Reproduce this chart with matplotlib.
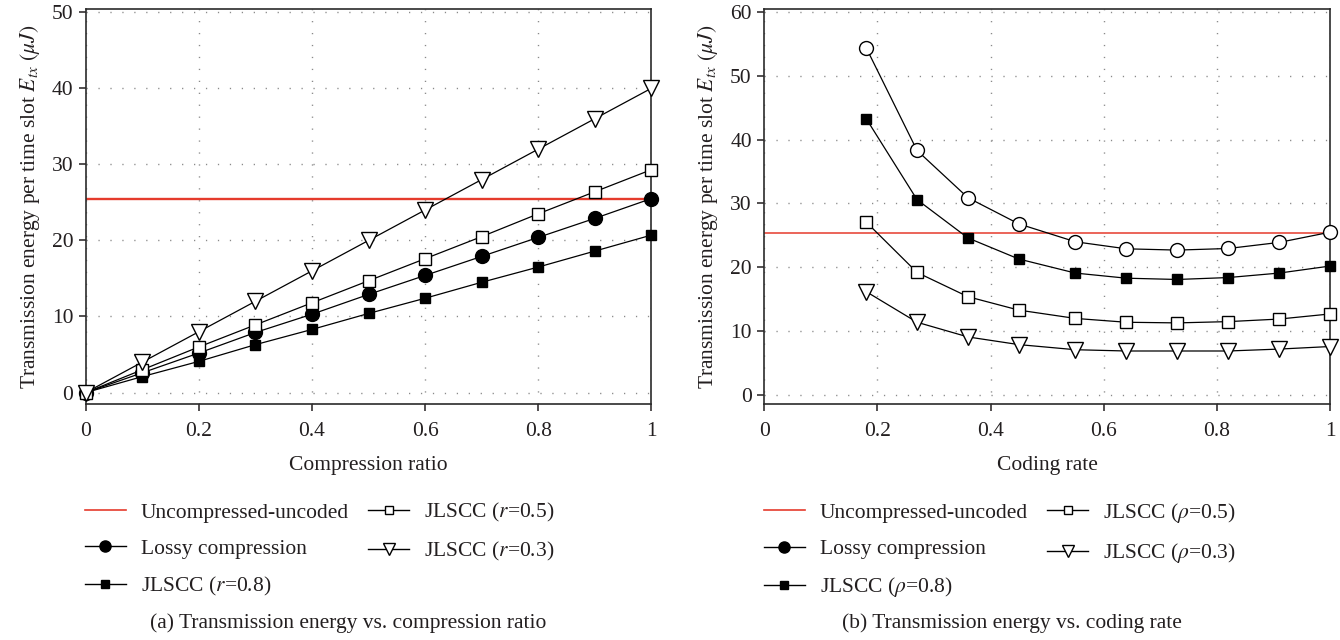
import matplotlib
matplotlib.use("Agg")
import matplotlib.pyplot as plt
from matplotlib.lines import Line2D

# ---------------- data ----------------
comp_ratio = [0, 0.1, 0.2, 0.3, 0.4, 0.5, 0.6, 0.7, 0.8, 0.9, 1.0]
a_uncompressed = 25.4
a_lossy = [0, 2.6, 5.2, 7.9, 10.3, 12.9, 15.4, 17.9, 20.4, 22.9, 25.5]
a_r08 = [0, 2.1, 4.1, 6.3, 8.3, 10.4, 12.4, 14.5, 16.5, 18.6, 20.7]
a_r05 = [0, 3.0, 6.0, 8.9, 11.8, 14.7, 17.6, 20.5, 23.5, 26.4, 29.3]
a_r03 = [0, 4.0, 8.0, 12.0, 16.0, 20.0, 24.0, 28.0, 32.0, 36.0, 40.0]

coding_rate = [0.18, 0.27, 0.36, 0.45, 0.55, 0.64, 0.73, 0.82, 0.91, 1.0]
b_uncompressed = 25.4
b_lossy = [54.4, 38.3, 30.9, 26.8, 24.0, 22.9, 22.7, 22.95, 23.9, 25.5]
b_rho08 = [43.3, 30.6, 24.6, 21.3, 19.1, 18.3, 18.1, 18.4, 19.1, 20.2]
b_rho05 = [27.1, 19.2, 15.4, 13.3, 12.0, 11.4, 11.3, 11.5, 11.9, 12.7]
b_rho03 = [16.2, 11.4, 9.1, 7.9, 7.1, 6.9, 6.9, 6.9, 7.2, 7.6]

a_xticks = [0, 0.2, 0.4, 0.6, 0.8, 1]
a_xticklabels = ["0", "0.2", "0.4", "0.6", "0.8", "1"]
a_yticks = [0, 10, 20, 30, 40, 50]
b_yticks = [0, 10, 20, 30, 40, 50, 60]

a_labels = ["Uncompressed-uncoded", "Lossy compression", "JLSCC ($r$=0.8)",
            "JLSCC ($r$=0.5)", "JLSCC ($r$=0.3)"]
b_labels = ["Uncompressed-uncoded", "Lossy compression", r"JLSCC ($\rho$=0.8)",
            r"JLSCC ($\rho$=0.5)", r"JLSCC ($\rho$=0.3)"]

# ---------------- style ----------------
FS = 15.5
plt.rcParams['font.family'] = ['Liberation Serif', 'DejaVu Serif']
plt.rcParams['mathtext.fontset'] = 'stix'
plt.rcParams['font.size'] = FS
TXT = '#231f20'
RED = '#e53b2c'
GRID = '#8a8a8a'

W, H = 1340, 640
fig = plt.figure(figsize=(W / 100, H / 100), dpi=100)

def ax_rect(x0, y0, x1, y1):
    return [x0 / W, 1 - y1 / H, (x1 - x0) / W, (y1 - y0) / H]

axA = fig.add_axes(ax_rect(85.7, 8.7, 651.5, 404))
axB = fig.add_axes(ax_rect(764.3, 8.7, 1330, 404))

line_kw = dict(color='black', lw=0.9, clip_on=False)

def style(ax, yticks, ylim):
    ax.set_xlim(0, 1)
    ax.set_ylim(*ylim)
    ax.set_xticks(a_xticks)
    ax.set_xticklabels(a_xticklabels)
    ax.set_yticks(yticks)
    ax.grid(True, color=GRID, lw=1.0, linestyle=(0, (0.9, 7.7)))
    ax.set_axisbelow(True)
    ax.tick_params(direction='out', length=5, width=1.1, colors=TXT,
                   labelsize=FS)
    ax.tick_params(axis='x', pad=8)
    ax.tick_params(axis='y', pad=4)
    for s in ax.spines.values():
        s.set_color('#2b2b2b')
        s.set_linewidth(1.2)
    ax.set_ylabel(r"Transmission energy per time slot $E_{tx}$ $(\mu J)$",
                  color=TXT, fontsize=FS, labelpad=7)

# ---- (a) ----
axA.axhline(a_uncompressed, color=RED, lw=1.7, zorder=2)
axA.plot(comp_ratio, a_lossy, marker='o', ms=10, mfc='black', mec='black', **line_kw, zorder=3)
axA.plot(comp_ratio, a_r08, marker='s', ms=7.5, mfc='black', mec='black', **line_kw, zorder=3)
axA.plot(comp_ratio, a_r05, marker='s', ms=8, mfc='white', mec='black', mew=1.0, **line_kw, zorder=4)
axA.plot(comp_ratio, a_r03, marker='v', ms=11, mfc='white', mec='black', mew=1.0, **line_kw, zorder=5)
style(axA, a_yticks, (-1.5, 50.45))
axA.set_xlabel("Compression ratio", color=TXT, fontsize=FS, labelpad=11)

# ---- (b) ----
axB.axhline(b_uncompressed, color=RED, lw=1.1, zorder=2)
axB.plot(coding_rate, b_lossy, marker='o', ms=10, mfc='white', mec='black', mew=1.0, **line_kw, zorder=3)
axB.plot(coding_rate, b_rho08, marker='s', ms=7.5, mfc='black', mec='black', **line_kw, zorder=3)
axB.plot(coding_rate, b_rho05, marker='s', ms=8, mfc='white', mec='black', mew=1.0, **line_kw, zorder=3)
axB.plot(coding_rate, b_rho03, marker='v', ms=11, mfc='white', mec='black', mew=1.0, **line_kw, zorder=3)
style(axB, b_yticks, (-1.4, 60.5))
axB.set_xlabel("Coding rate", color=TXT, fontsize=FS, labelpad=11)

# ---- legends ----
def handles(labels):
    return [
        Line2D([], [], color=RED, lw=1.2, label=labels[0]),
        Line2D([], [], color='black', lw=1.0, marker='o', ms=8, mfc='black', mec='black', label=labels[1]),
        Line2D([], [], color='black', lw=1.0, marker='s', ms=6, mfc='black', mec='black', label=labels[2]),
        Line2D([], [], color='black', lw=1.0, marker='s', ms=6, mfc='white', mec='black', label=labels[3]),
        Line2D([], [], color='black', lw=1.0, marker='v', ms=8.5, mfc='white', mec='black', label=labels[4]),
    ]

leg_kw = dict(ncol=2, frameon=False, handlelength=1.9, handletextpad=0.7,
              columnspacing=0.9, labelspacing=0.75, borderpad=0, borderaxespad=0,
              fontsize=FS, loc='upper left', labelcolor=TXT)
fig.legend(handles=handles(a_labels), bbox_to_anchor=(85 / W, 1 - 501 / H), **leg_kw)
fig.legend(handles=handles(b_labels), bbox_to_anchor=(764 / W, 1 - 501 / H), **leg_kw)

# ---- captions ----
fig.text(348 / W, 1 - 623 / H, "(a) Transmission energy vs. compression ratio",
         ha='center', va='center', color=TXT, fontsize=FS)
fig.text(1012 / W, 1 - 623 / H, "(b) Transmission energy vs. coding rate",
         ha='center', va='center', color=TXT, fontsize=FS)

fig.savefig("out.png", dpi=100)
